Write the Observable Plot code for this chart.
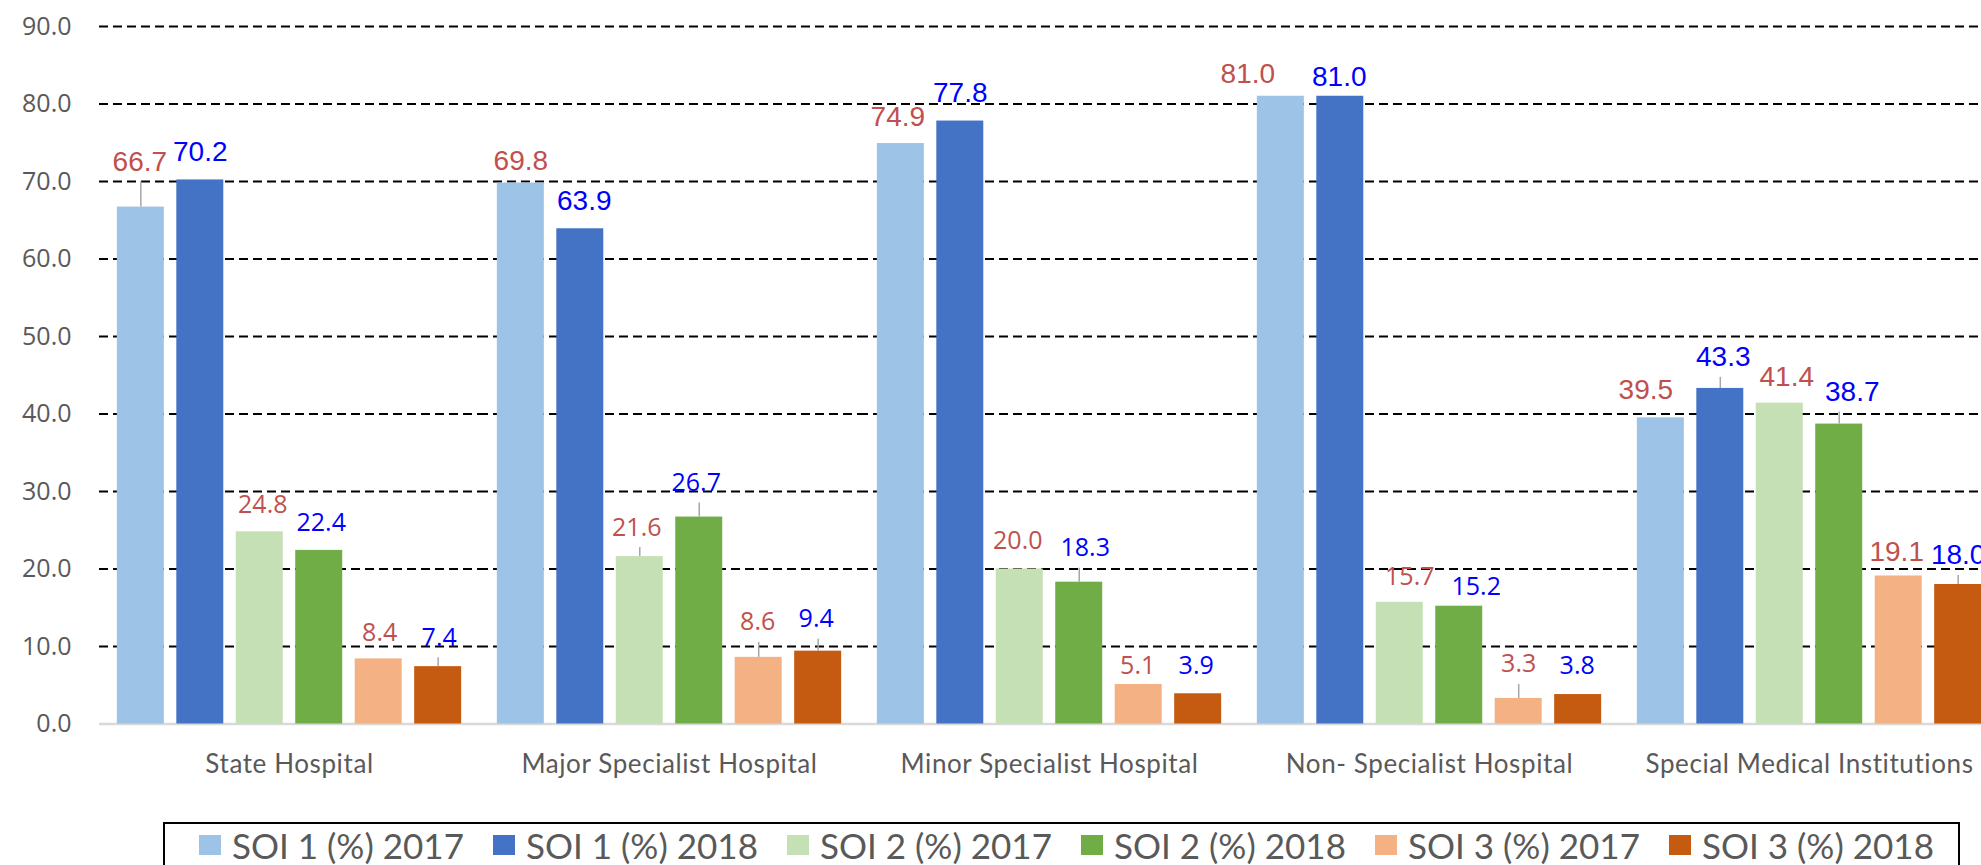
<!DOCTYPE html>
<html>
<head>
<meta charset="utf-8">
<script src="https://cdn.jsdelivr.net/npm/d3@7"></script>
<script src="https://cdn.jsdelivr.net/npm/@observablehq/plot@0.6"></script>
<style>
  html, body { margin: 0; padding: 0; background: #fff; overflow: hidden; }
  #chart svg { display: block; overflow: hidden; }
  #legend {
    margin-top: 22px; margin-left: 163px; width: 1797px; height: 70px; box-sizing: border-box;
    border: 2px solid #000; display: flex; align-items: flex-start;
    padding-left: 34px; font-family: Lato, sans-serif; font-size: 35px;
    line-height: 42px; color: #595959; white-space: nowrap;
  }
  #legend .item { display: flex; align-items: center; flex: 0 0 294px; }
  #legend .sw { width: 22px; height: 20px; margin-right: 11px; flex: 0 0 auto; }
</style>
</head>
<body>
<div id="chart"></div>
<div id="legend"></div>
<script>
// ---- data ----
const categories = [
  "State Hospital",
  "Major Specialist Hospital",
  "Minor Specialist Hospital",
  "Non- Specialist Hospital",
  "Special Medical Institutions"
];
const seriesNames = [
  "SOI 1 (%) 2017", "SOI 1 (%) 2018",
  "SOI 2 (%) 2017", "SOI 2 (%) 2018",
  "SOI 3 (%) 2017", "SOI 3 (%) 2018"
];
const soi1_2017 = [66.7, 69.8, 74.9, 81.0, 39.5];
const soi1_2018 = [70.2, 63.9, 77.8, 81.0, 43.3];
const soi2_2017 = [24.8, 21.6, 20.0, 15.7, 41.4];
const soi2_2018 = [22.4, 26.7, 18.3, 15.2, 38.7];
const soi3_2017 = [8.4, 8.6, 5.1, 3.3, 19.1];
const soi3_2018 = [7.4, 9.4, 3.9, 3.8, 18.0];
const yTicks = [0, 10, 20, 30, 40, 50, 60, 70, 80, 90];

// ---- styling / label layout (not data) ----
const seriesColors = ["#9DC3E6", "#4472C4", "#C5E0B4", "#70AD47", "#F4B183", "#C55A11"];
const labelColors = ["#C0504D", "#0000FF", "#C0504D", "#0000FF", "#C0504D", "#0000FF"];
const labelDx = [
  [-1, 0, -3, -33, -15],
  [0, 4, 0, -1, 3],
  [3, -3, -2, 10, 7],
  [2, -3, 6, 17, 13],
  [1, -1, -1, 0, -2],
  [1, -2, -2, -1, 0]
];
const labelLift = [
  [45, 22, 26, 22, 28],
  [28, 28, 28, 19, 31],
  [27, 29, 28, 25, 26],
  [27, 34, 34, 19, 32],
  [26, 35, 18, 34, 24],
  [29, 32, 28, 29, 29]
];
const hasLeader = [
  [true, false, false, false, false],
  [false, false, false, false, true],
  [false, true, false, false, false],
  [false, true, true, false, true],
  [false, true, false, true, false],
  [true, true, false, false, true]
];

const values = [soi1_2017, soi1_2018, soi2_2017, soi2_2018, soi3_2017, soi3_2018];
const rows = seriesNames.flatMap((s, si) => categories.map((c, ci) => ({
  cat: c, series: s, value: values[si][ci], si, ci,
  dx: labelDx[si][ci], lift: labelLift[si][ci], leader: hasLeader[si][ci]
})));

const labelMarks = rows.map(d => Plot.text([d], {
  fx: "cat", x: "series", y: "value",
  text: r => r.value.toFixed(1),
  dx: d.dx, dy: -d.lift,
  fill: labelColors[d.si],
  fontSize: (d.si < 2 || d.ci === 4) ? 28 : 25,
  fontFamily: (d.si < 2 || d.ci === 4) ? "Liberation Sans, Arial, sans-serif" : "Open Sans, sans-serif"
}));
const leaderMarks = rows.filter(d => d.leader).map(d => Plot.ruleX([d], {
  fx: "cat", x: "series", y1: "value", y2: "value",
  insetBottom: d.lift - 20, stroke: "#a6a6a6", strokeWidth: 1.5
}));

const chart = Plot.plot({
  width: 1981,
  height: 800,
  marginTop: 26,
  marginBottom: 76.5,
  marginLeft: 99,
  marginRight: -18,
  style: { background: "#fff" },
  fx: { domain: categories, padding: 0, round: false, axis: null, label: null },
  x: { domain: seriesNames, paddingInner: 0.21, paddingOuter: 0.3, round: false, axis: null },
  y: { domain: [0, 90], axis: null },
  color: { domain: seriesNames, range: seriesColors },
  marks: [
    Plot.gridY(yTicks.filter(t => t > 0), { stroke: "#000", strokeOpacity: 1, strokeWidth: 2, strokeDasharray: "9,5" }),
    Plot.ruleY([0], { stroke: "#d9d9d9", strokeWidth: 2.5 }),
    Plot.barY(rows, { fx: "cat", x: "series", y: "value", fill: "series" }),
    Plot.axisY(yTicks, { tickSize: 0, tickPadding: 28, tickFormat: d3.format(".1f"), fontSize: 25, fontFamily: "Open Sans, sans-serif", color: "#595959", label: null }),
    Plot.axisFx({ anchor: "bottom", tickSize: 0, tickPadding: 31, fontSize: 26, fontFamily: "Lato, sans-serif", color: "#595959", label: null }),
    ...leaderMarks,
    ...labelMarks
  ]
});
document.getElementById("chart").appendChild(chart);
d3.select(chart).selectAll('[aria-label="fx-axis tick label"] text').style("letter-spacing", "0.6px");

const legend = d3.select("#legend");
seriesNames.forEach((s, i) => {
  const item = legend.append("div").attr("class", "item");
  item.append("div").attr("class", "sw").style("background", seriesColors[i]);
  item.append("span").text(s);
});
</script>
</body>
</html>
